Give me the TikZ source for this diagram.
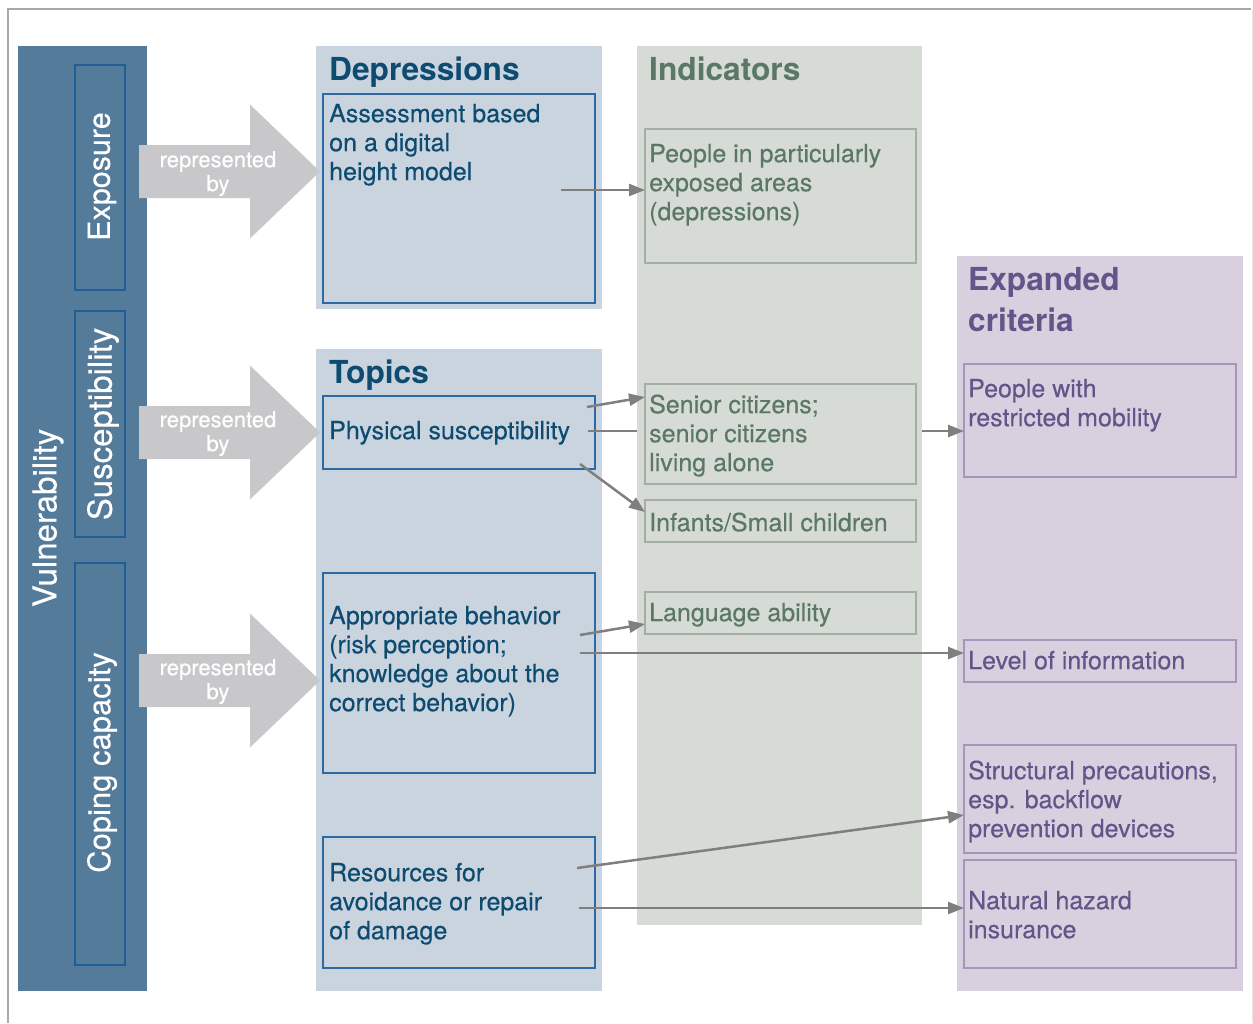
\documentclass[tikz,border=0pt]{standalone}
\usepackage{fontspec}
\setmainfont{TeX Gyre Heros}
\newfontfamily\bodyfont{TeX Gyre Heros}[FakeBold=0.3]
\usetikzlibrary{arrows.meta}
\definecolor{colblue}{HTML}{557B9A}
\definecolor{colboxline}{HTML}{1F5E96}
\definecolor{arrowgray}{HTML}{C8C8CA}
\definecolor{bluepanel}{HTML}{CAD4DF}
\definecolor{blueline}{HTML}{2D6AA3}
\definecolor{bluetext}{HTML}{0D4B70}
\definecolor{indpanel}{HTML}{D6DBD5}
\definecolor{indline}{HTML}{A5AEA5}
\definecolor{indtext}{HTML}{5B7866}
\definecolor{exppanel}{HTML}{D8D0DF}
\definecolor{expline}{HTML}{A497B9}
\definecolor{exptext}{HTML}{655489}
\definecolor{conncol}{HTML}{7F7F80}
\definecolor{framecol}{HTML}{A3ABA3}
\begin{document}
\begin{tikzpicture}[x=1pt,y=-1pt,
  panel/.style={anchor=north west, inner sep=0pt, outer sep=0pt},
  colbox/.style={anchor=north west, inner sep=0pt, outer sep=0pt, draw=colboxline, line width=1.5pt, minimum width=50pt},
  bbox/.style={anchor=north west, inner sep=0pt, outer sep=0pt, draw=blueline, line width=1.5pt, minimum width=272pt},
  ibox/.style={anchor=north west, inner sep=0pt, outer sep=0pt, draw=indline, line width=1.3pt, minimum width=271pt},
  ebox/.style={anchor=north west, inner sep=0pt, outer sep=0pt, draw=expline, line width=1.3pt, minimum width=272pt},
  body/.style={anchor=north west, inner sep=0pt, align=left, font=\bodyfont\fontsize{25}{29}\selectfont},
  head/.style={anchor=base west, inner sep=0pt, font=\fontsize{31.7}{41}\selectfont\bfseries},
  reptext/.style={anchor=north, inner sep=0pt, align=center, text=white, font=\bodyfont\fontsize{22}{24}\selectfont},
  vtext/.style={rotate=90, inner sep=0pt, text=white},
  conn/.style={draw=conncol, line width=2.5pt, -{Triangle[length=16pt,width=12pt]}}
]
\useasboundingbox (0,0) rectangle (1253,1023);
% frame
\draw[framecol, line width=2pt] (8,1023) -- (8,9) -- (1251,9);
\draw[gray!20, line width=1pt] (1252,9) -- (1252,1023);

% left column
\node[panel, fill=colblue, minimum width=129pt, minimum height=945pt] (col) at (18,46) {};
\node[colbox, minimum height=225pt] (bExpo) at (75,65) {};
\node[colbox, minimum height=226pt] (bSusc) at (75,311) {};
\node[colbox, minimum height=402pt] (bCop) at (75,563) {};
\node[vtext, font=\bodyfont\fontsize{33}{38}\selectfont] (tVul) at (48,518) {Vulnerability};
\node[vtext, font=\bodyfont\fontsize{30.5}{36}\selectfont] (tExpo) at (102,176.5) {Exposure};
\node[vtext, font=\bodyfont\fontsize{33}{38}\selectfont] (tSusc) at (103,424) {Susceptibility};
\node[vtext, font=\bodyfont\fontsize{31}{36}\selectfont] (tCop) at (102,762.5) {Coping capacity};

% panels
\node[panel, fill=bluepanel, minimum width=286pt, minimum height=263pt] (pDep) at (316,46) {};
\node[panel, fill=bluepanel, minimum width=286pt, minimum height=642pt] (pTop) at (316,349) {};
\node[panel, fill=exppanel, minimum width=286pt, minimum height=735pt] (pExp) at (957,256) {};

% boxes (blue / purple)
\node[bbox, minimum height=209pt] (bAss) at (323,94) {};
\node[bbox, minimum height=73pt] (bPhys) at (323,396) {};
\node[bbox, minimum height=200pt] (bApp) at (323,573) {};
\node[bbox, minimum height=131pt] (bRes) at (323,837) {};
\node[ebox, minimum height=113pt] (bMob) at (964,364) {};
\node[ebox, minimum height=42pt] (bLev) at (964,640) {};
\node[ebox, minimum height=108pt] (bStr) at (964,745) {};
\node[ebox, minimum height=108pt] (bNat) at (964,860) {};

% connector passing behind the Indicators panel
\coordinate (s3) at (588,431);
\draw[conn] (s3) -- (bMob.west |- s3);

% indicators panel and boxes
\node[panel, fill=indpanel, minimum width=285pt, minimum height=879pt] (pInd) at (637,46) {};
\node[ibox, minimum height=134pt] (bPeo) at (645,129) {};
\node[ibox, minimum height=100pt] (bSen) at (645,384) {};
\node[ibox, minimum height=42pt] (bInf) at (645,500) {};
\node[ibox, minimum height=42pt] (bLan) at (645,592) {};

% big gray arrows
\foreach \c in {171.5,432.5,680.5}
  \fill[arrowgray] (139,\c-26.5) -- (250,\c-26.5) -- (250,\c-67) -- (320,\c) -- (250,\c+67) -- (250,\c+26.5) -- (139,\c+26.5) -- cycle;
\node[reptext] (r1) at (218,150.2) {\strut represented\\by};
\node[reptext] (r2) at (218,410.2) {\strut represented\\by};
\node[reptext] (r3) at (218,658.2) {\strut represented\\by};

% headings
\node[head, text=bluetext] (hDep) at (329,80) {Depressions};
\node[head, text=bluetext] (hTop) at (329,383) {Topics};
\node[head, text=indtext] (hInd) at (649,80) {Indicators};
\node[head, anchor=north west, align=left, text=exptext] (hExp) at (968,261.3) {\strut Expanded\\criteria};

% body texts
\node[body, text=bluetext] (tAss) at (329,101.7) {\strut Assessment based\\on a digital\\height model};
\node[body, text=bluetext] (tPhys) at (329,418.7) {\strut Physical susceptibility};
\node[body, text=bluetext] (tApp) at (329,603.7) {\strut Appropriate behavior\\(risk perception;\\knowledge about the\\correct behavior)};
\node[body, text=bluetext] (tRes) at (329,860.7) {\strut Resources for\\avoidance or repair\\of damage};
\node[body, text=indtext] (tPeo) at (649,141.7) {\strut People in particularly\\exposed areas\\(depressions)};
\node[body, text=indtext] (tSen) at (649,392.7) {\strut Senior citizens;\\senior citizens\\living alone};
\node[body, text=indtext] (tInf) at (649,510.7) {\strut Infants/Small children};
\node[body, text=indtext] (tLan) at (649,600.7) {\strut Language ability};
\node[body, text=exptext] (tMob) at (968,376.7) {\strut People with\\restricted mobility};
\node[body, text=exptext] (tLev) at (968,648.7) {\strut Level of information};
\node[body, text=exptext] (tStr) at (968,758.7) {\strut Structural precautions,\\esp. backflow\\prevention devices};
\node[body, text=exptext] (tNat) at (968,888.7) {\strut Natural hazard\\insurance};

% connectors
\coordinate (s1) at (561,190);
\coordinate (s2) at (587,407);
\coordinate (s4) at (580,464);
\coordinate (s5) at (580,635);
\coordinate (s6) at (580,653);
\coordinate (s7) at (577,868);
\coordinate (s8) at (579,908);
\draw[conn] (s1) -- (bPeo.west |- s1);
\draw[conn] (s2) -- (bSen.west |- 0,397);
\draw[conn] (s4) -- (bInf.west |- 0,512);
\draw[conn] (s5) -- (bLan.west |- 0,624);
\draw[conn] (s6) -- (bLev.west |- s6);
\draw[conn] (s7) -- (bStr.west |- 0,815);
\draw[conn] (s8) -- (bNat.west |- s8);
\end{tikzpicture}
\end{document}
